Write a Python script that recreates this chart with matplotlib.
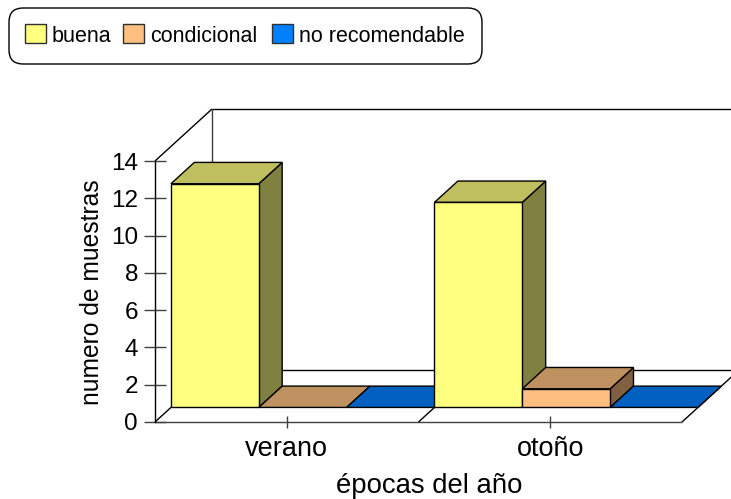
import matplotlib
matplotlib.use("Agg")
import matplotlib.pyplot as plt
from matplotlib.patches import Polygon, Rectangle, FancyBboxPatch

plt.rcParams['font.family'] = ['Liberation Sans', 'DejaVu Sans']

epocas = ["verano", "otoño"]
series = ["buena", "condicional", "no recomendable"]
buena = [12, 11]
condicional = [0, 1]
no_recomendable = [0, 0]
y_ticks = [0, 2, 4, 6, 8, 10, 12, 14]

colores = ["#FFFF80", "#FFBF80", "#0080FF"]
colores_top = ["#BFBF60", "#BF9060", "#0060BF"]
colores_lado = ["#808040", "#806040", "#004080"]

W, H = 731, 499
# plot area in pixels (front plane)
L, R, T, B = 155, 682, 161, 422
DX, DY = 57, 52  # depth of the 3d box in pixels

fig = plt.figure(figsize=(W / 100, H / 100), dpi=100)
ax = fig.add_axes([L / W, 1 - B / H, (R - L) / W, (B - T) / H])
ax.set_xlim(0, len(epocas))
ax.set_ylim(0, 14)
ax.patch.set_visible(False)
for s in ["top", "right", "bottom"]:
    ax.spines[s].set_visible(False)
ax.spines["left"].set_linewidth(1.0)


def pt(x, y, d=0.0):
    # oblique projection, d goes from 0 (front) to 1 (back wall)
    return (x + d * DX / (R - L) * len(epocas), y + d * DY / (B - T) * 14)


def poly(puntos, fc="none", ec="black", lw=1.0, z=2):
    ax.add_patch(Polygon(puntos, closed=True, fc=fc, ec=ec, lw=lw, zorder=z,
                         clip_on=False, joinstyle="miter"))


def linea(a, b, color="black", lw=1.0, z=1):
    ax.plot([a[0], b[0]], [a[1], b[1]], color=color, lw=lw, zorder=z,
            clip_on=False, solid_capstyle="butt")


n = len(epocas)
# walls and floor
linea(pt(0, 14), pt(0, 14, 1))
linea(pt(0, 14, 1), pt(0, 0, 1), color="#404040")
linea(pt(0, 14, 1), pt(n, 14, 1))
linea(pt(0, 0), pt(0, 0, 1))
linea(pt(0, 0, 1), pt(n, 0, 1))
linea(pt(0, 0), pt(n, 0), color="#404040")
linea(pt(n, 0), pt(n, 0, 1))
linea(pt(1, 0), pt(1, 0, 1))

# bars
d0, d1 = 0.28, 0.69
ancho = 1 / 3
valores = [buena, condicional, no_recomendable]
for i in range(n):
    for j, vals in enumerate(valores):
        x0 = i + j * ancho
        x1 = x0 + ancho
        v = vals[i]
        if v > 0:
            poly([pt(x1, 0, d0), pt(x1, 0, d1), pt(x1, v, d1), pt(x1, v, d0)],
                 fc=colores_lado[j])
        poly([pt(x0, v, d0), pt(x0, v, d1), pt(x1, v, d1), pt(x1, v, d0)],
             fc=colores_top[j])
        if v > 0:
            poly([pt(x0, 0, d0), pt(x1, 0, d0), pt(x1, v, d0), pt(x0, v, d0)],
                 fc=colores[j])

ax.set_yticks(y_ticks)
ax.set_xticks([i + 0.5 for i in range(n)], epocas)
ax.tick_params(axis="y", direction="inout", length=16.5, width=1, color="#404040",
               labelsize=17.5, pad=4)
ax.tick_params(axis="x", direction="inout", length=8, width=1, color="#404040",
               labelsize=19.5, pad=6)
ax.set_xlabel("épocas del año", fontsize=19.8)
ax.xaxis.set_label_coords((429 - L) / (R - L), (B - 473) / (B - T))
ax.set_ylabel("numero de muestras", fontsize=17.7)
ax.yaxis.set_label_coords((104 - L) / (R - L), (B - 292) / (B - T))

# legend box, drawn by hand to get the big rounded corners
lg = fig.add_axes([0, 0, 1, 1])
lg.set_xlim(0, W)
lg.set_ylim(H, 0)
lg.axis("off")
lg.add_patch(FancyBboxPatch((23, 22), 445, 28, boxstyle="round,pad=14,rounding_size=14",
                            fc="white", ec="black", lw=1))
swatch_x = [25, 123, 272]
text_x = [52, 150, 299]
for sx, tx, nombre, c in zip(swatch_x, text_x, series, colores):
    lg.add_patch(Rectangle((sx, 24), 21, 18.5, fc=c, ec="#303030", lw=1))
    lg.text(tx, 36, nombre, fontsize=15.5, va="center", ha="left")

fig.savefig("out.png", dpi=100)
